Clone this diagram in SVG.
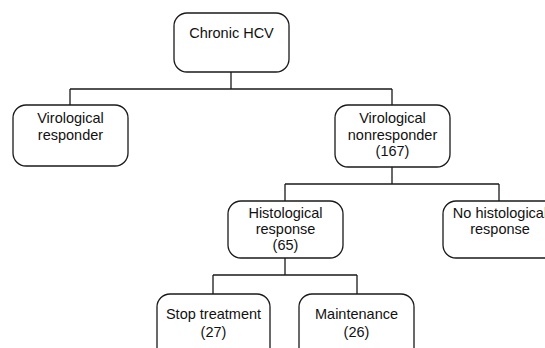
<svg xmlns="http://www.w3.org/2000/svg" width="545" height="348" viewBox="0 0 545 348">
<style>
.box{fill:#fff;stroke:#1a1a1a;stroke-width:1.3}
.lbl{font-family:"Liberation Sans",Arial,sans-serif;font-size:14.5px;fill:#111;text-anchor:middle}
.con{fill:none;stroke:#1a1a1a;stroke-width:1.3}
</style>
<rect width="545" height="348" fill="#fff"/>
<g id="connectors">
<path class="con" d="M231,72 V89 M70,89 H392 M70,89 V105 M392,89 V105"/>
<path class="con" d="M392,167 V184 M285,184 H499 M285,184 V201 M499,184 V201"/>
<path class="con" d="M285,258 V275 M213,275 H357 M213,275 V294 M357,275 V294"/>
</g>
<g id="chronic-hcv">
<rect class="box" x="174" y="13" width="115" height="59" rx="13"/>
<text class="lbl" x="231.5" y="38">Chronic HCV</text>
</g>
<g id="virological-responder">
<rect class="box" x="13" y="105" width="115" height="61" rx="13"/>
<text class="lbl" x="70.5" y="123">Virological</text>
<text class="lbl" x="70.5" y="140">responder</text>
</g>
<g id="virological-nonresponder">
<rect class="box" x="335" y="105" width="115" height="62" rx="13"/>
<text class="lbl" x="392.5" y="123">Virological</text>
<text class="lbl" x="392.5" y="140">nonresponder</text>
<text class="lbl" x="392.5" y="156">(167)</text>
</g>
<g id="histological-response">
<rect class="box" x="228" y="201" width="115" height="57" rx="13"/>
<text class="lbl" x="285.5" y="218">Histological</text>
<text class="lbl" x="285.5" y="234">response</text>
<text class="lbl" x="285.5" y="250">(65)</text>
</g>
<g id="no-histological-response">
<rect class="box" x="443" y="201" width="115" height="57" rx="13"/>
<text class="lbl" x="500" y="218">No histological</text>
<text class="lbl" x="500" y="234">response</text>
</g>
<g id="stop-treatment">
<rect class="box" x="157" y="294" width="113" height="70" rx="13"/>
<text class="lbl" x="213.5" y="319">Stop treatment</text>
<text class="lbl" x="213.5" y="337">(27)</text>
</g>
<g id="maintenance">
<rect class="box" x="299" y="294" width="115" height="70" rx="13"/>
<text class="lbl" x="356.5" y="319">Maintenance</text>
<text class="lbl" x="356.5" y="337">(26)</text>
</g>
</svg>
